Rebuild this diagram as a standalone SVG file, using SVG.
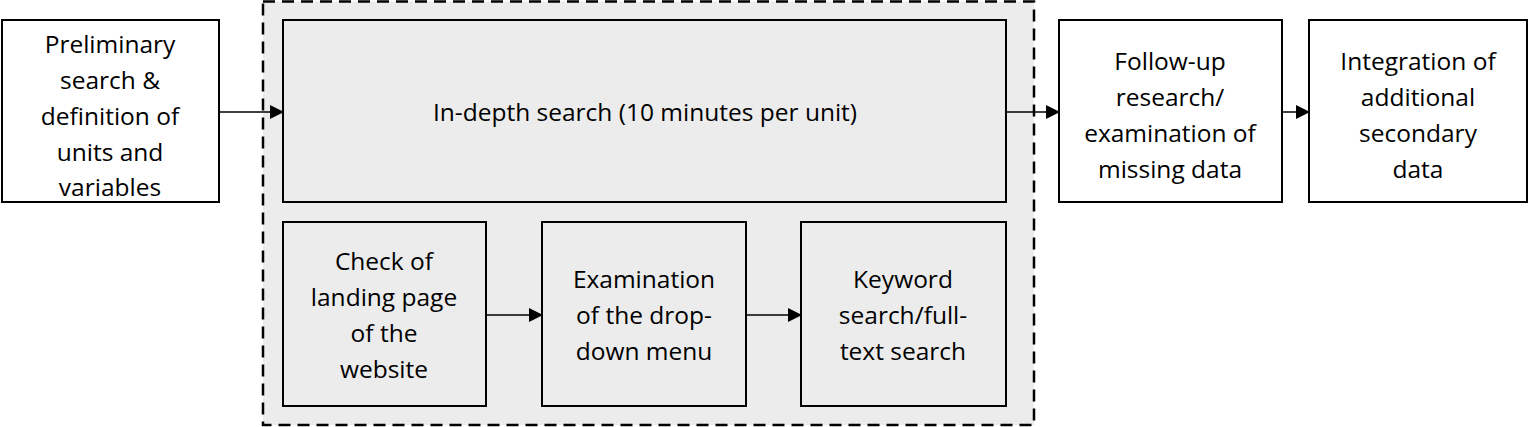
<svg xmlns="http://www.w3.org/2000/svg" width="1530" height="427" viewBox="0 0 1530 427">
<style>
.b{stroke:#000;stroke-width:2;}
.w{fill:#fff}.g{fill:#ececec}
text{font-family:"Open Sans","Liberation Sans",sans-serif;font-size:24.5px;fill:#000;text-anchor:middle}
.c{stroke:#000;stroke-width:1.5;fill:none;marker-end:url(#a)}
</style>
<defs><marker id="a" markerWidth="14" markerHeight="14" refX="13" refY="7" orient="auto" markerUnits="userSpaceOnUse"><path d="M0,0L14,7L0,14z" fill="#000"/></marker></defs>
<rect width="1530" height="427" fill="#fff"/>
<g id="container"><rect x="263" y="1.5" width="771" height="423.5" fill="#ececec" stroke="#000" stroke-width="2.5" stroke-dasharray="12,7"/></g>
<g id="n1"><rect class="b w" x="2" y="20" width="217" height="182"/>
<text x="110" y="53">Preliminary</text><text x="110" y="89">search &amp;</text><text x="110" y="125">definition of</text><text x="110" y="161">units and</text><text x="110" y="196">variables</text></g>
<g id="n2"><rect class="b g" x="283" y="20" width="723" height="182"/><text x="645" y="121">In-depth search (10 minutes per unit)</text></g>
<g id="n3"><rect class="b g" x="283" y="222" width="203" height="184"/>
<text x="384" y="270">Check of</text><text x="384" y="306">landing page</text><text x="384" y="342">of the</text><text x="384" y="378">website</text></g>
<g id="n4"><rect class="b g" x="542" y="222" width="204" height="184"/>
<text x="644" y="288">Examination</text><text x="644" y="324">of the drop-</text><text x="644" y="360">down menu</text></g>
<g id="n5"><rect class="b g" x="801" y="222" width="205" height="184"/>
<text x="903" y="288">Keyword</text><text x="903" y="324">search/full-</text><text x="903" y="360">text search</text></g>
<g id="n6"><rect class="b w" x="1059" y="20" width="223" height="182"/>
<text x="1170" y="70">Follow-up</text><text x="1170" y="106">research/</text><text x="1170" y="142">examination of</text><text x="1170" y="178">missing data</text></g>
<g id="n7"><rect class="b w" x="1309" y="20" width="218" height="182"/>
<text x="1418" y="70">Integration of</text><text x="1418" y="106">additional</text><text x="1418" y="142">secondary</text><text x="1418" y="178">data</text></g>
<g id="connectors">
<line class="c" x1="219" y1="112" x2="283" y2="112"/>
<line class="c" x1="1006" y1="112" x2="1059" y2="112"/>
<line class="c" x1="1282" y1="112" x2="1309" y2="112"/>
<line class="c" x1="486" y1="315" x2="542" y2="315"/>
<line class="c" x1="746" y1="315" x2="801" y2="315"/>
</g>
</svg>
